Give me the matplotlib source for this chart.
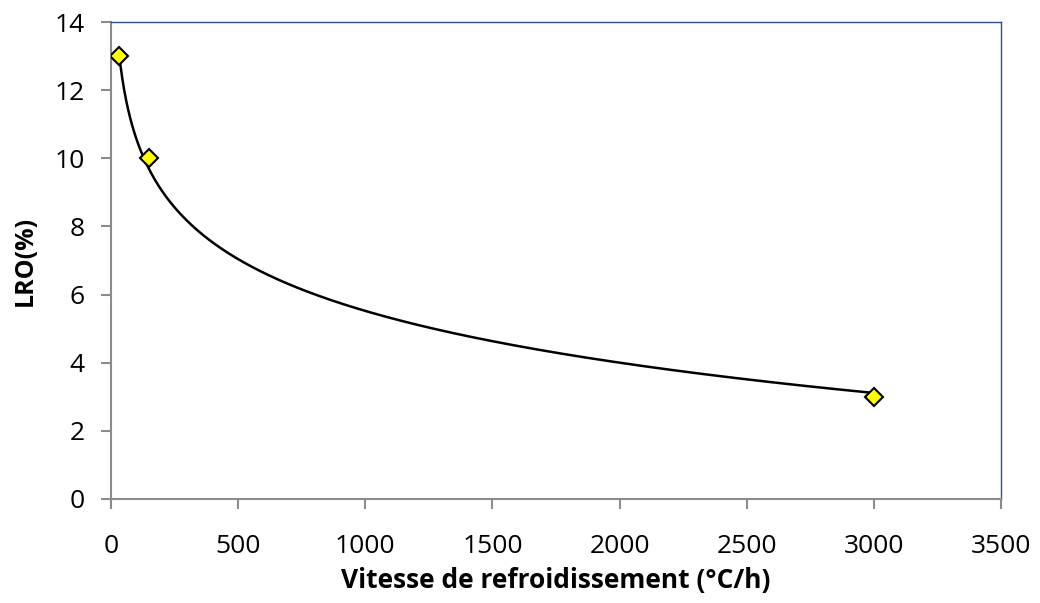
import numpy as np
import matplotlib.pyplot as plt

# measured points
vitesse = [30, 150, 3000]
lro = [13, 10, 3]

# logarithmic trendline (like Excel), fitted on the points
a, b = np.polyfit(np.log(vitesse), lro, 1)
x_fit = np.linspace(min(vitesse), max(vitesse), 400)
y_fit = a * np.log(x_fit) + b

plt.rcParams['font.family'] = ['Open Sans', 'DejaVu Sans']

fig = plt.figure(figsize=(10.4, 6.03), dpi=100)
ax = fig.add_axes([0.1067, 0.1725, 0.8558, 0.791])

ax.plot(x_fit, y_fit, color='black', lw=1.8, zorder=2)
ax.plot(vitesse, lro, linestyle='none', marker='D', markersize=9,
        markerfacecolor='#FFFF00', markeredgecolor='black', markeredgewidth=1.5, zorder=3)

ax.set_xlim(0, 3500)
ax.set_ylim(0, 14)
ax.set_xticks(np.arange(0, 3501, 500))
ax.set_yticks(np.arange(0, 15, 2))

for side in ['left', 'bottom']:
    ax.spines[side].set_color('#8C8C8C')
    ax.spines[side].set_linewidth(1.5)
for side in ['top', 'right']:
    ax.spines[side].set_color('#2F4F8F')
    ax.spines[side].set_linewidth(1.0)

ax.tick_params(direction='out', length=7, width=1.5, color='#8C8C8C',
               labelsize=19)
ax.tick_params(axis='x', pad=18)
ax.tick_params(axis='y', pad=12)

ax.set_xlabel('Vitesse de refroidissement (°C/h)', fontsize=19, fontweight='bold', labelpad=6)
ax.set_ylabel('LRO(%)', fontsize=18, fontweight='bold', labelpad=12)

fig.savefig('out.png', dpi=100)
